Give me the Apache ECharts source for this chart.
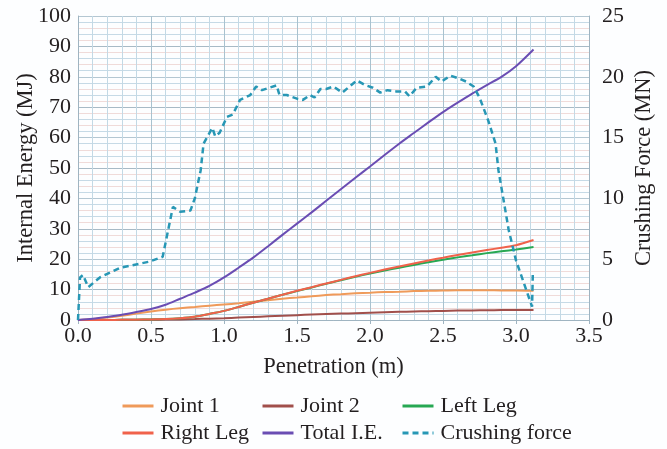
<!DOCTYPE html>
<html>
<head>
<meta charset="utf-8">
<script src="https://cdn.jsdelivr.net/npm/echarts@6/dist/echarts.min.js"></script>
<style>
  html, body { margin: 0; padding: 0; background: #fdfeff; }
  #chart { width: 667px; height: 449px; }
</style>
</head>
<body>
<div id="chart"></div>
<script>
// Penetration (m) for the internal energy curves
const penetration = [0, 0.1, 0.2, 0.3, 0.4, 0.5, 0.6, 0.7, 0.8, 0.9, 1.0, 1.1, 1.2, 1.3, 1.4, 1.5, 1.6, 1.7, 1.8, 1.9, 2.0, 2.1, 2.2, 2.3, 2.4, 2.5, 2.6, 2.7, 2.8, 2.9, 3.0, 3.12];

// Internal energy (MJ)
const joint1 = [0, 0.3, 0.8, 1.4, 2.1, 2.8, 3.4, 3.9, 4.3, 4.7, 5.1, 5.5, 6.0, 6.5, 7.0, 7.4, 7.8, 8.2, 8.5, 8.8, 9.0, 9.2, 9.3, 9.5, 9.6, 9.7, 9.8, 9.8, 9.8, 9.7, 9.7, 9.6];
const joint2 = [0, 0, 0, 0.05, 0.08, 0.1, 0.15, 0.2, 0.3, 0.45, 0.6, 0.8, 1.0, 1.2, 1.4, 1.6, 1.8, 1.95, 2.1, 2.25, 2.4, 2.55, 2.7, 2.8, 2.9, 3.0, 3.1, 3.15, 3.2, 3.25, 3.3, 3.3];
const leftLeg = [0, 0, 0, 0.05, 0.1, 0.2, 0.3, 0.6, 1.1, 2.0, 3.0, 4.3, 5.7, 7.0, 8.3, 9.5, 10.7, 11.9, 13.1, 14.2, 15.3, 16.3, 17.2, 18.1, 19.0, 19.8, 20.6, 21.3, 22.0, 22.6, 23.2, 24.0];
const rightLeg = [0, 0, 0, 0.05, 0.1, 0.2, 0.3, 0.6, 1.1, 2.0, 3.0, 4.3, 5.7, 7.0, 8.3, 9.6, 10.8, 12.0, 13.2, 14.4, 15.5, 16.6, 17.6, 18.6, 19.6, 20.5, 21.4, 22.2, 23.0, 23.8, 24.6, 26.3];
const totalIE = [0, 0.4, 1.0, 1.7, 2.6, 3.6, 5.0, 7.0, 9.0, 11.2, 14.0, 17.2, 20.5, 24.2, 28.0, 31.7, 35.4, 39.2, 43.0, 46.8, 50.5, 54.3, 58.0, 61.5, 65.0, 68.4, 71.5, 74.5, 77.3, 80.0, 83.5, 89.0];

// Crushing force (MN) against penetration (m)
const forceX = [0, 0.014, 0.034, 0.07, 0.15, 0.29, 0.49, 0.58, 0.65, 0.7, 0.77, 0.8, 0.84, 0.86, 0.92, 0.94, 0.97, 1.02, 1.06, 1.11, 1.18, 1.22, 1.26, 1.31, 1.36, 1.38, 1.43, 1.5, 1.54, 1.59, 1.62, 1.66, 1.7, 1.75, 1.81, 1.86, 1.91, 1.97, 2.02, 2.07, 2.12, 2.18, 2.24, 2.27, 2.32, 2.39, 2.45, 2.49, 2.55, 2.6, 2.66, 2.71, 2.75, 2.81, 2.86, 2.88, 2.95, 3.0, 3.11, 3.115];
const forceY = [0, 3.5, 3.7, 2.7, 3.5, 4.3, 4.8, 5.2, 9.3, 8.9, 9.0, 10.0, 12.3, 14.5, 15.8, 15.1, 15.4, 16.7, 16.9, 18.1, 18.5, 19.2, 18.9, 19.1, 19.3, 18.5, 18.5, 18.2, 18.1, 18.5, 18.3, 19.0, 19.0, 19.2, 18.7, 19.2, 19.7, 19.3, 19.1, 18.7, 18.9, 18.8, 18.8, 18.4, 19.1, 19.2, 20.0, 19.6, 20.1, 19.9, 19.6, 19.2, 18.3, 16.4, 14.5, 12.3, 7.4, 4.9, 1.1, 3.7];

// Energy axis ticks (left), force axis ticks (right), penetration ticks
const energyTicks = { min: 0, max: 100, step: 10 };
const forceTicks = { min: 0, max: 25, step: 5 };
const penTicks = { min: 0, max: 3.5, step: 0.5 };

const pair = (xs, ys) => xs.map((x, i) => [x, ys[i]]);

const serif = "'Liberation Serif', 'Times New Roman', 'DejaVu Serif', serif";
const textColor = '#231f20';
const tickFont = { fontFamily: serif, fontSize: 22, color: textColor };
const nameFont = { fontFamily: serif, fontSize: 22.5, color: textColor };

const seriesDefs = [
  { name: 'Joint 1', data: joint1, color: '#ef9a5a' },
  { name: 'Joint 2', data: joint2, color: '#a14f4b' },
  { name: 'Left Leg', data: leftLeg, color: '#27a853' },
  { name: 'Right Leg', data: rightLeg, color: '#f0624b' },
  { name: 'Total I.E.', data: totalIE, color: '#6a4db3' }
];

const series = seriesDefs.map(s => ({
  name: s.name,
  type: 'line',
  data: pair(penetration, s.data),
  smooth: 0.3,
  symbol: 'none',
  yAxisIndex: 0,
  lineStyle: { color: s.color, width: 2 },
  itemStyle: { color: s.color },
  z: 3
}));

series.push({
  name: 'Crushing force',
  type: 'line',
  data: pair(forceX, forceY),
  symbol: 'none',
  yAxisIndex: 1,
  lineStyle: { color: '#2797b5', width: 2.5, type: [6, 4] },
  itemStyle: { color: '#2797b5' },
  z: 4
});

// One legend block per entry, laid out in a 3 x 2 arrangement
const legendCols = [121, 261, 401];
const legendRows = [395, 422];
const legendNames = ['Joint 1', 'Joint 2', 'Left Leg', 'Right Leg', 'Total I.E.', 'Crushing force'];
const legends = legendNames.map((n, i) => ({
  data: [n],
  left: legendCols[i % 3],
  top: legendRows[Math.floor(i / 3)],
  itemWidth: 31,
  itemHeight: 16,
  itemGap: 0,
  itemStyle: { opacity: 0 },
  lineStyle: { width: 3 },
  textStyle: { fontFamily: serif, fontSize: 22, color: textColor, padding: [0, 0, 0, 2] },
  padding: 0,
  selectedMode: false
}));

const chart = echarts.init(document.getElementById('chart'), null, { renderer: 'canvas' });
chart.setOption({
  backgroundColor: '#fdfeff',
  animation: false,
  legend: legends,
  grid: { left: 78, right: 78, top: 16, bottom: 129, containLabel: false, outerBoundsMode: 'none' },
  xAxis: {
    type: 'value',
    min: penTicks.min, max: penTicks.max, interval: penTicks.step,
    name: 'Penetration (m)',
    nameLocation: 'middle',
    nameGap: 36,
    nameMoveOverlap: false,
    nameTextStyle: nameFont,
    axisLine: { show: true, onZero: false, lineStyle: { color: '#9fb4c1', width: 1 } },
    axisTick: { show: true, length: 4, lineStyle: { color: '#9fb4c1' } },
    axisLabel: Object.assign({ margin: 5, formatter: v => v.toFixed(1) }, tickFont),
    splitLine: { show: true, lineStyle: { color: '#a9c2cf', width: 1 } },
    minorTick: { show: false, splitNumber: 5 },
    minorSplitLine: { show: true, lineStyle: { color: '#c3d9e5', width: 1 } }
  },
  yAxis: [
    {
      type: 'value',
      min: energyTicks.min, max: energyTicks.max, interval: energyTicks.step,
      name: 'Internal Energy (MJ)',
      nameLocation: 'middle',
      nameGap: 40,
      nameMoveOverlap: false,
      nameTextStyle: nameFont,
      axisLine: { show: true, lineStyle: { color: '#9fb4c1' } },
      axisTick: { show: false },
      axisLabel: Object.assign({ margin: 7 }, tickFont),
      splitLine: { show: true, lineStyle: { color: '#a7bac6', width: 1 } },
      minorTick: { show: false, splitNumber: 5 },
      minorSplitLine: { show: true, lineStyle: { color: '#c6dae6', width: 1 } }
    },
    {
      type: 'value',
      min: forceTicks.min, max: forceTicks.max, interval: forceTicks.step,
      name: 'Crushing Force (MN)',
      nameLocation: 'middle',
      nameGap: 44,
      nameMoveOverlap: false,
      nameTextStyle: nameFont,
      axisLine: { show: true, lineStyle: { color: '#9fb4c1' } },
      axisTick: { show: false },
      axisLabel: Object.assign({ margin: 13 }, tickFont),
      splitLine: { show: true, lineStyle: { color: '#b4c7d2', width: 1 } },
      minorTick: { show: false, splitNumber: 5 },
      minorSplitLine: { show: true, lineStyle: { color: '#f0dbd9', width: 1 } }
    }
  ],
  series: series
});
</script>
</body>
</html>
